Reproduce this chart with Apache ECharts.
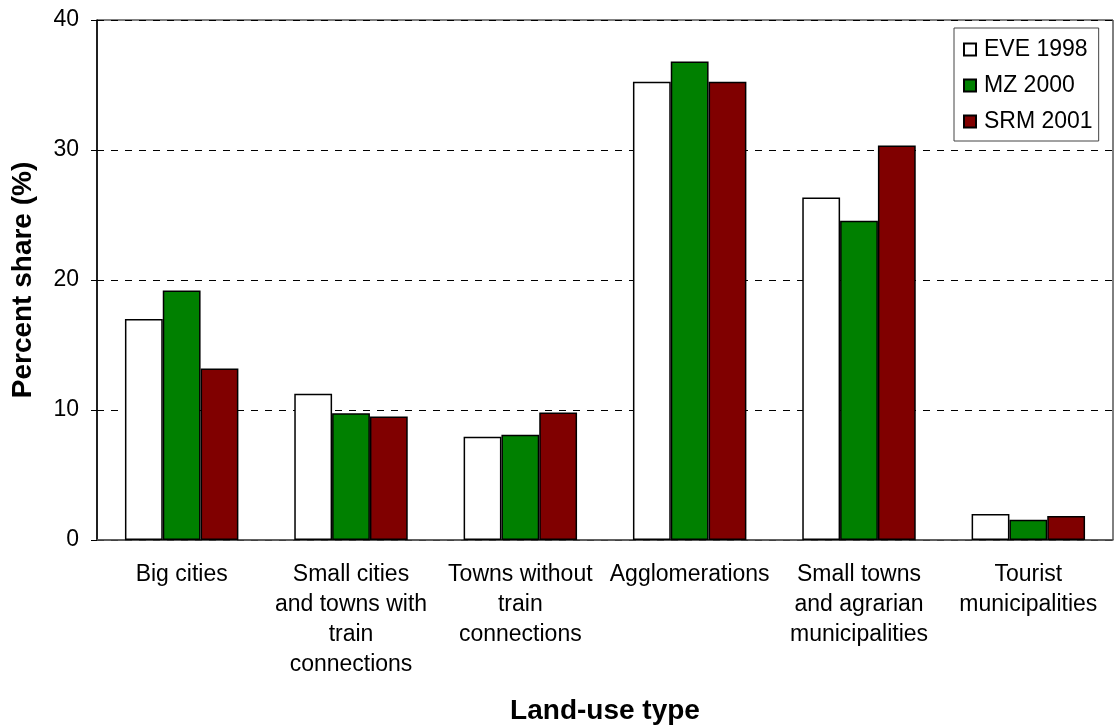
<!DOCTYPE html>
<html>
<head>
<meta charset="utf-8">
<script src="https://cdn.jsdelivr.net/npm/echarts@6/dist/echarts.min.js"></script>
<style>
  html, body { margin: 0; padding: 0; background: #fff; }
</style>
</head>
<body>
<div id="chart" style="width:1114px;height:726px"></div>
<script>
// land-use categories (x labels, wrapped like the original)
const categories = [
  'Big cities',
  'Small cities\nand towns with\ntrain\nconnections',
  'Towns without\ntrain\nconnections',
  'Agglomerations',
  'Small towns\nand agrarian\nmunicipalities',
  'Tourist\nmunicipalities'
]
const eve1998 = [17.0, 11.25, 7.95, 35.25, 26.35, 2.0]
const mz2000 = [19.2, 9.75, 8.1, 36.8, 24.55, 1.55]
const srm2001 = [13.2, 9.5, 9.8, 35.25, 30.35, 1.85]
const yTicks = [0, 10, 20, 30, 40]

const font = 'Arial, "Liberation Sans", sans-serif'
const chart = echarts.init(document.getElementById('chart'))

const barStyle = (color) => ({
  color: color,
  borderColor: '#000',
  borderWidth: 1.5
})

const option = {
  animation: false,
  textStyle: { fontFamily: font },
  grid: {
    left: 97,
    top: 20,
    right: 1,
    bottom: 186,
    outerBoundsMode: 'none',
    show: true,
    borderColor: '#000',
    borderWidth: 1
  },
  legend: {
    orient: 'vertical',
    left: 954,
    top: 28,
    padding: [10, 6, 8, 9],
    itemGap: 13,
    itemWidth: 12,
    itemHeight: 12,
    icon: 'rect',
    borderColor: '#444',
    borderWidth: 1,
    textStyle: { fontSize: 23, lineHeight: 23, color: '#000', fontFamily: font, padding: [0, 0, 0, 3] },
    data: ['EVE 1998', 'MZ 2000', 'SRM 2001']
  },
  xAxis: {
    type: 'category',
    data: categories,
    name: 'Land-use type',
    nameLocation: 'middle',
    nameGap: 157,
    nameTextStyle: { fontSize: 28, fontWeight: 'bold', color: '#000' },
    axisLine: { lineStyle: { color: '#555', width: 1.5 } },
    axisTick: { length: 6, lineStyle: { color: '#555' } },
    axisLabel: {
      interval: 0,
      fontSize: 23,
      lineHeight: 30,
      color: '#000',
      margin: 20
    }
  },
  yAxis: {
    type: 'value',
    min: yTicks[0],
    max: yTicks[yTicks.length - 1],
    interval: 10,
    name: 'Percent share (%)',
    nameLocation: 'middle',
    nameGap: 60,
    nameTextStyle: { fontSize: 28, fontWeight: 'bold', color: '#000' },
    axisLine: { show: true, lineStyle: { color: '#000', width: 1.5 } },
    axisTick: { show: true, length: 6, lineStyle: { color: '#000' } },
    axisLabel: { fontSize: 23, color: '#000', margin: 18 },
    splitLine: {
      lineStyle: { color: '#000', type: [7, 7], width: 1 }
    }
  },
  series: [
    {
      name: 'EVE 1998',
      type: 'bar',
      data: eve1998,
      barGap: '0%',
      barCategoryGap: '33%',
      itemStyle: barStyle('#ffffff')
    },
    {
      name: 'MZ 2000',
      type: 'bar',
      data: mz2000,
      itemStyle: barStyle('#008000')
    },
    {
      name: 'SRM 2001',
      type: 'bar',
      data: srm2001,
      itemStyle: barStyle('#800000')
    }
  ]
}

chart.setOption(option)
</script>
</body>
</html>
